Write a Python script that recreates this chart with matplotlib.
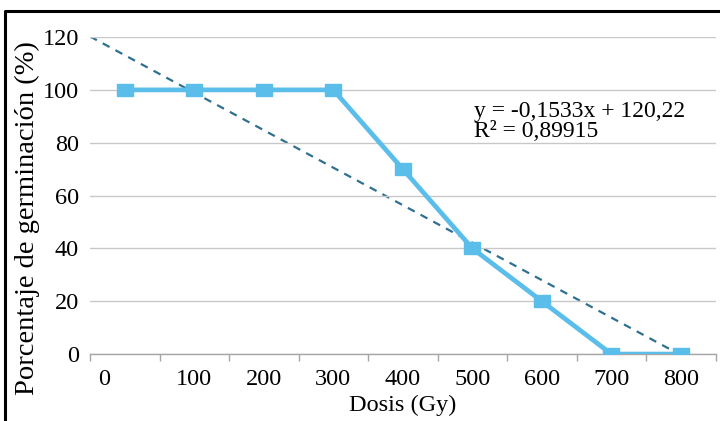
import matplotlib.pyplot as plt
import numpy as np
from matplotlib.lines import Line2D
from matplotlib.transforms import ScaledTranslation

# data
dosis = [0, 100, 200, 300, 400, 500, 600, 700, 800]
germinacion = [100, 100, 100, 100, 70, 40, 20, 0, 0]
y_ticks = [0, 20, 40, 60, 80, 100, 120]

# linear trend (Excel style) fitted on dose in Gy
slope, intercept = np.polyfit(dosis, germinacion, 1)
pred = slope * np.array(dosis) + intercept
r2 = 1 - np.sum((np.array(germinacion) - pred) ** 2) / np.sum((np.array(germinacion) - np.mean(germinacion)) ** 2)

plt.rcParams['font.family'] = ['Liberation Serif', 'DejaVu Serif']

fig = plt.figure(figsize=(7.2, 4.21), dpi=100)
ax = fig.add_axes([0.125, 0.159, 0.869, 0.753])

# trendline drawn on its own dose scale, underneath the series
ax2 = ax.twiny()
ax2.set_xlim(0, 833)
xt = np.array([0, 833])
ax2.plot(xt, slope * xt + intercept, color='#2F7091', lw=1.6, ls=(0, (3.5, 3)))
ax2.axis('off')
ax2.set_zorder(1)
ax.set_zorder(2)
ax.patch.set_visible(False)

# slightly wide square markers like the original
rect = [(-1, -0.85), (1, -0.85), (1, 0.85), (-1, 0.85), (-1, -0.85)]
pos = np.arange(len(dosis))
ax.plot(pos, germinacion, color='#5BBDEA', lw=3.4, marker=rect, markersize=11, zorder=3)

ax.set_xlim(-0.5, len(dosis) - 0.5)
ax.set_ylim(0, 120)
ax.set_yticks(y_ticks)
ax.set_xticks(pos)
ax.set_xticklabels([str(d) for d in dosis])
ax.set_xticks(np.arange(-0.5, len(dosis)), minor=True)
ax.tick_params(axis='x', which='major', length=0, labelsize=17.5, pad=11)
ax.tick_params(axis='x', which='minor', length=5, color='#a6a6a6', width=1, direction='out')
ax.tick_params(axis='y', length=0, labelsize=17.5, pad=8)
ax.grid(axis='y', color='#c8c8c8', lw=1)
for s in ['left', 'right', 'top']:
    ax.spines[s].set_visible(False)
ax.spines['bottom'].set_color('#a6a6a6')
ax.spines['bottom'].set_linewidth(1)

# first label sits a bit left in the original
lab0 = ax.get_xticklabels()[0]
lab0.set_transform(lab0.get_transform() + ScaledTranslation(-0.21, 0, fig.dpi_scale_trans))

ax.set_xlabel('Dosis (Gy)', fontsize=17.5, labelpad=3)
ax.set_ylabel('Porcentaje de germinación (%)', fontsize=20.5, labelpad=2)
ax.yaxis.label.set_y(0.43)

eq = 'y = ' + f'{slope:.4f}'.replace('.', ',') + 'x + ' + f'{intercept:.2f}'.replace('.', ',')
ax.text(0.613, 0.668, eq + '\n' + 'R² = ' + f'{r2:.5f}'.replace('.', ','),
        transform=ax.transAxes, fontsize=17, linespacing=0.93, va='bottom', ha='left')

# frame: only the top and left edges show in the original crop
fig.add_artist(Line2D([0.007, 0.007, 1.0], [0.0, 0.975, 0.975], transform=fig.transFigure,
                      color='black', lw=2.2))

fig.savefig('out.png', dpi=100)
